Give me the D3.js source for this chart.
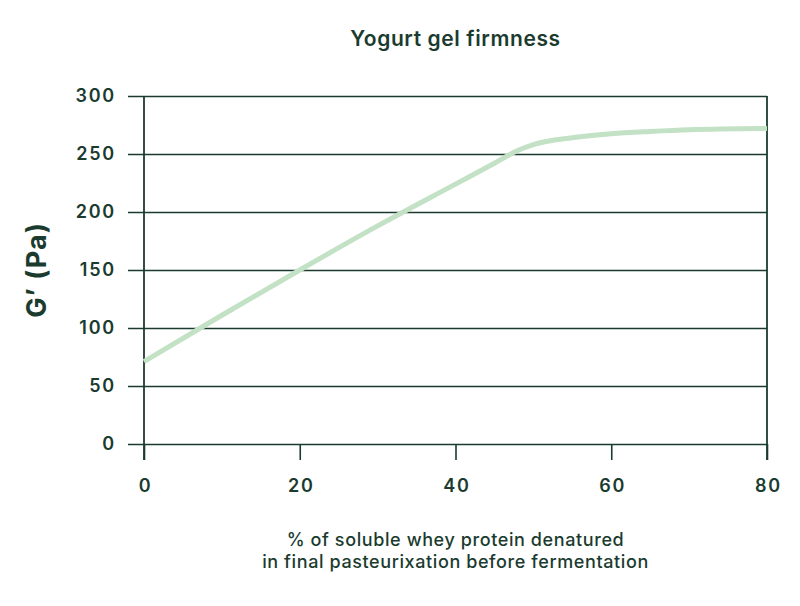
<!DOCTYPE html>
<html>
<head>
<meta charset="utf-8">
<script src="https://cdn.jsdelivr.net/npm/d3@7"></script>
<style>
  body { margin: 0; background: #fff; }
  text { font-family: Inter, "Noto Sans", sans-serif; fill: #1b3b2f; }
</style>
</head>
<body>
<div id="chart"></div>
<script>
// values
let xVals = [0, 10, 20, 30, 40, 45, 48, 50, 55, 60, 65, 70, 80];
let gVals = [71, 111, 150, 188, 224, 242, 253, 258, 264, 267.5, 269.5, 271, 272];
let xTicks = [0, 20, 40, 60, 80];
let yTicks = [0, 50, 100, 150, 200, 250, 300];

let W = 800, H = 606;
let margin = {top: 96, right: 33, bottom: 162, left: 144};
let ink = "#1b3b2f";

let svg = d3.select("#chart").append("svg")
    .attr("width", W)
    .attr("height", H);

let x = d3.scaleLinear().domain([0, 80]).range([margin.left, W - margin.right]);
let y = d3.scaleLinear().domain([0, 300]).range([H - margin.bottom, margin.top]);

// horizontal grid lines + y labels
let yAxis = svg.append("g")
    .attr("transform", "translate(" + margin.left + ",0)")
    .call(d3.axisLeft(y).tickValues(yTicks).tickSize(16).tickPadding(12));
yAxis.select(".domain").remove();
yAxis.selectAll(".tick line")
    .attr("x1", x(80) - margin.left)
    .attr("x2", -16)
    .attr("stroke", ink)
    .attr("stroke-width", 1.6);
yAxis.selectAll(".tick text")
    .style("font-size", "18px")
    .style("font-weight", 600)
    .style("letter-spacing", "1.8px")
    .attr("fill", ink);

// x axis ticks
let xAxis = svg.append("g")
    .attr("transform", "translate(0," + y(0) + ")")
    .call(d3.axisBottom(x).tickValues(xTicks).tickSize(16).tickPadding(19));
xAxis.select(".domain").remove();
xAxis.selectAll(".tick line")
    .attr("stroke", ink)
    .attr("stroke-width", 1.6);
xAxis.selectAll(".tick text")
    .style("font-size", "18px")
    .style("font-weight", 600)
    .style("letter-spacing", "1.8px")
    .attr("dx", 1)
    .attr("fill", ink);

// vertical frame lines at both ends
[0, 80].forEach(function (v) {
    svg.append("line")
        .attr("x1", x(v)).attr("x2", x(v))
        .attr("y1", y(300)).attr("y2", y(0) + 16)
        .attr("stroke", ink)
        .attr("stroke-width", 1.8);
});

// the curve
let line = d3.line()
    .x(function (d, i) { return x(xVals[i]); })
    .y(function (d) { return y(d); })
    .curve(d3.curveMonotoneX);
svg.append("path")
    .datum(gVals)
    .attr("d", line)
    .attr("fill", "none")
    .attr("stroke", "#c2e1c5")
    .attr("stroke-width", 5);

// title
svg.append("text")
    .attr("x", (x(0) + x(80)) / 2)
    .attr("y", 46)
    .attr("text-anchor", "middle")
    .style("font-size", "21px")
    .style("font-weight", 600)
    .style("letter-spacing", "0.6px")
    .text("Yogurt gel firmness");

// y label
svg.append("text")
    .attr("transform", "translate(46," + ((y(0) + y(300)) / 2) + ") rotate(-90)")
    .attr("text-anchor", "middle")
    .style("font-size", "27px")
    .style("font-weight", 700)
    .style("letter-spacing", "1px")
    .text("G’ (Pa)");

// x label, two lines
let xl = svg.append("text")
    .attr("text-anchor", "middle")
    .style("font-size", "18px")
    .style("font-weight", 500)
    .style("letter-spacing", "0.6px");
xl.append("tspan").attr("x", (x(0) + x(80)) / 2).attr("y", 546)
    .text("% of soluble whey protein denatured");
xl.append("tspan").attr("x", (x(0) + x(80)) / 2).attr("y", 568)
    .text("in final pasteurixation before fermentation");
</script>
</body>
</html>
